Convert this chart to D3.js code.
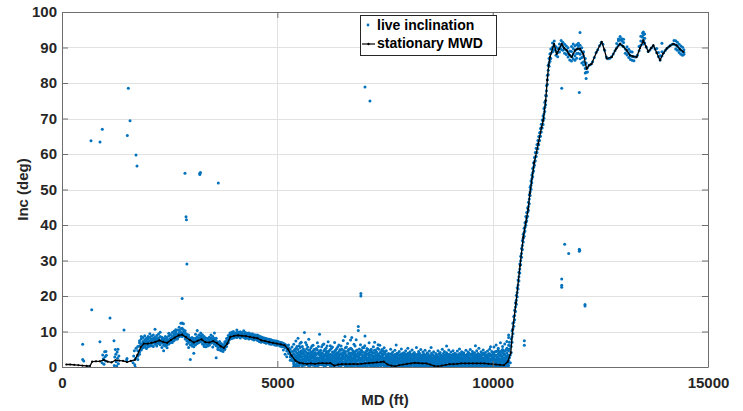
<!DOCTYPE html>
<html>
<head>
<meta charset="utf-8">
<script src="https://cdn.jsdelivr.net/npm/d3@7"></script>
<style>
  html, body { margin: 0; padding: 0; background: #fff; }
  svg { display: block; font-family: "Liberation Sans", Arial, sans-serif; }
</style>
</head>
<body>
<svg id="chart" width="743" height="411"></svg>
<script>
// ---------- data ----------
const xTicks = [0, 5000, 10000, 15000];
const yTicks = [0, 10, 20, 30, 40, 50, 60, 70, 80, 90, 100];
const seriesNames = ["live inclination", "stationary MWD"];

// stationary MWD surveys: measured depth (ft) and inclination (deg)
const mwdDepth = [100,190,285,380,475,570,650,700,790,880,970,1060,1150,1240,1330,1420,1510,1600,1690,1750,1830,1900,1990,2080,2170,2260,2350,2440,2530,2620,2710,2790,2880,2970,3060,3150,3240,3330,3420,3510,3600,3690,3760,3840,3910,4000,4090,4180,4270,4360,4450,4540,4630,4720,4810,4900,4990,5080,5170,5250,5330,5420,5510,5600,5690,5780,5870,5960,6050,6140,6230,6320,6410,6500,6590,6680,6770,6860,6950,7040,7130,7220,7310,7400,7470,7560,7650,7740,7830,7920,8010,8100,8190,8280,8370,8460,8550,8640,8730,8820,8910,9000,9090,9180,9270,9360,9450,9540,9630,9720,9810,9900,9990,10080,10170,10260,10350,10420,10465,10540,10635,10710,10770,10825,10865,10965,11060,11135,11175,11230,11268,11300,11331,11424,11487,11540,11603,11660,11719,11780,11835,11912,11970,12028,12104,12183,12240,12299,12415,12532,12590,12648,12764,12860,12957,13030,13112,13189,13260,13344,13420,13497,13560,13614,13680,13730,13810,13885,13960,14041,14120,14194,14273,14350,14426];
const mwdInc = [0.7,0.7,0.6,0.5,0.4,0.3,0.3,1.5,1.6,1.6,2.0,1.5,1.3,1.9,1.8,1.7,1.4,1.7,2.0,3.4,5.6,6.6,6.6,6.8,7.1,7.5,7.1,6.8,7.6,8.3,8.9,9.1,8.4,7.6,6.9,7.4,7.8,7.0,6.9,7.3,6.7,5.8,5.4,6.6,8.5,8.8,8.9,8.8,8.7,8.5,8.3,8.1,7.5,7.3,7.0,6.8,6.6,6.4,6.1,5.0,3.2,1.8,1.2,1.0,0.9,1.0,0.9,1.0,1.1,1.0,1.1,0.4,0.7,0.8,0.8,0.8,0.9,0.8,0.9,1.0,1.1,1.2,1.3,1.4,1.5,0.7,0.4,0.2,0.5,0.7,0.9,1.0,1.2,1.1,1.0,1.0,0.7,0.3,0.2,0.4,0.6,0.8,0.8,0.9,1.0,1.0,1.0,1.0,1.0,1.0,1.0,0.9,0.8,0.7,0.6,0.5,1.5,4.0,10.5,18.0,28.5,36.5,40.8,44.5,49.0,57.5,63.0,67.5,69.5,75.0,80.8,85.0,87.3,91.0,88.2,89.5,91.0,89.8,89.2,88.0,87.3,89.2,89.6,89.7,88.2,84.0,85.0,85.4,88.8,91.6,89.5,86.9,87.3,89.5,91.0,90.3,89.2,87.8,87.5,87.3,89.8,92.0,90.3,88.8,89.8,90.6,88.5,86.4,88.3,89.7,90.5,91.0,90.6,89.5,88.8];

// live inclination readings, grouped as [depth, [inclinations at that depth]]
const liveShallow = [
  [480,[6.4,2.1]],[505,[1.7]],[590,[0.0]],[690,[16.1]],[880,[7.1]],
  [930,[1.2]],[945,[3.4]],[960,[2.3]],[975,[0.8]],[990,[4.3]],[1000,[2.9]],[1010,[1.7]],[1020,[4.4]],[1030,[3.3]],
  [1115,[13.8]],[1207,[7.4]],[1215,[0.4]],[1225,[2.8]],[1240,[4.9]],[1250,[3.6]],[1260,[1.5]],[1270,[0.3]],
  [1280,[4.2]],[1290,[2.5]],[1300,[5.0]],[1310,[0.9]],[1320,[3.1]],[1440,[10.4]],[1500,[2.0]],[1510,[2.4]],
  [1650,[1.2]],[1665,[3.1]],[1680,[4.6]],[1690,[0.6]],[1700,[0.0]],[1710,[2.4]],[1720,[5.3]]
];
const liveTangent = [
  [1760,[2.1,4.6,3.0,5.8]],[1800,[4.2,5.9,6.8,3.6,7.4]],[1840,[5.1,6.4,7.9,8.6,4.8]],[1880,[6.0,7.2,8.3,5.4,6.9]],
  [1920,[5.6,7.7,6.3,8.8,7.0]],[1960,[6.1,7.4,5.2,8.1,6.8]],[2000,[7.9,6.2,5.7,8.6,7.1]],[2040,[6.5,8.3,7.4,5.9,9.4]],
  [2080,[7.2,6.0,8.7,7.8,6.6]],[2120,[8.1,6.8,7.5,9.0,5.8]],[2160,[7.0,8.4,6.4,7.7,10.6]],[2200,[7.6,8.9,6.7,8.0,5.9]],
  [2240,[8.2,7.1,9.3,6.6,7.8]],[2280,[7.4,8.6,6.3,9.8,7.0]],[2320,[6.8,7.9,5.5,8.4,7.2]],[2360,[7.3,6.1,8.0,6.7,4.6]],
  [2400,[6.4,7.8,5.9,7.1,8.6]],[2440,[7.0,6.2,8.3,5.4,7.6]],[2480,[7.7,8.8,6.5,7.2,9.5]],[2520,[8.1,7.0,9.1,6.8,7.9]],
  [2560,[8.6,7.5,9.7,8.0,6.9]],[2600,[9.2,8.0,7.4,10.1,8.7]],[2640,[8.8,9.9,7.8,9.4,10.5]],[2680,[9.3,8.2,10.4,9.0,7.9]],
  [2720,[9.6,10.3,8.5,9.1,11.2]],[2760,[9.0,10.6,8.7,12.3,9.8]],[2790,[12.4,10.9,9.4,8.6,19.3]],[2820,[9.8,8.9,10.5,12.2,9.2]],
  [2860,[8.7,9.6,7.9,10.2,8.3]],[2900,[8.0,9.2,7.3,6.4,8.6]],[2940,[7.6,8.5,6.9,9.0,5.5]],[2980,[7.2,6.3,8.1,2.1,7.7]],
  [3020,[6.8,7.6,5.9,8.3,6.4]],[3060,[6.5,7.3,3.9,8.0,5.7]],[3100,[7.0,8.1,6.2,7.6,9.2]],[3140,[7.7,6.6,8.5,7.2,10.3]],
  [3180,[8.2,7.3,9.0,6.9,7.9]],[3220,[7.9,8.8,7.1,9.6,8.4]],[3260,[7.4,8.3,6.5,7.9,9.1]],[3300,[7.0,6.2,7.8,8.6,5.8]],
  [3340,[6.6,7.5,5.7,7.1,8.2]],[3380,[7.2,6.4,8.0,5.9,6.8]],[3420,[6.9,7.7,6.1,8.4,7.3]],[3460,[7.5,6.7,8.2,7.0,9.0]],
  [3500,[7.8,6.9,8.6,7.3,5.6]],[3540,[7.1,8.0,6.4,7.6,9.6]],[3580,[6.6,7.4,2.6,8.1,6.0]],[3620,[6.2,5.4,7.0,6.7,4.9]],
  [3660,[5.7,6.5,4.8,6.1,7.2]],[3700,[5.3,6.0,4.6,5.6,6.6]],[3740,[5.0,5.8,4.4,6.2,5.4]],[3780,[5.9,6.6,5.2,7.1,4.9]],
  [3820,[6.4,7.3,5.8,6.9,8.0]],[3860,[7.6,8.2,6.8,8.9,7.2]],[3900,[8.3,9.1,7.8,8.7,9.6]],[3940,[8.6,9.4,8.0,9.8,8.9]],
  [3980,[8.8,9.5,8.2,9.1,10.0]],[4020,[9.0,8.4,9.6,8.7,9.3]],[4060,[8.9,9.7,8.3,9.2,10.4]],[4100,[9.1,8.5,9.8,8.8,9.4]],
  [4140,[8.7,9.5,8.2,9.0,9.9]],[4180,[9.2,8.6,9.7,8.9,9.3]],[4220,[8.8,9.4,8.3,9.1,10.2]],[4260,[8.6,9.3,8.0,8.9,9.7]],
  [4300,[8.9,8.2,9.5,8.5,9.1]],[4340,[8.4,9.2,7.9,8.7,9.6]],[4380,[8.6,8.0,9.3,8.3,8.9]],[4420,[8.3,9.0,7.8,8.6,9.4]],
  [4460,[8.1,8.8,7.6,8.4,9.1]],[4500,[8.4,7.8,9.0,8.1,8.7]],[4540,[8.0,8.6,7.5,8.3,9.0]],[4580,[7.8,8.4,7.2,8.1,8.7]],
  [4620,[7.5,8.2,7.0,7.8,8.5]],[4660,[7.7,7.1,8.3,7.4,8.0]],[4700,[7.3,7.9,6.9,7.6,8.2]],[4740,[7.1,7.7,6.7,7.4,8.0]],
  [4780,[7.4,6.8,7.9,7.1,7.6]],[4820,[6.9,7.5,6.5,7.2,7.8]],[4860,[6.8,7.3,6.4,7.0,7.7]],[4900,[7.0,6.5,7.5,6.8,7.2]],
  [4940,[6.6,7.1,6.2,6.9,7.4]],[4980,[6.5,7.0,6.1,6.8,7.3]],[5020,[6.7,6.2,7.2,6.4,6.9]],[5060,[6.3,6.8,5.9,6.5,7.0]],
  [5100,[6.1,6.6,5.7,6.4,6.9]],[5140,[6.3,5.8,6.7,6.0,4.8]],[5180,[5.9,6.4,5.4,6.1,3.6]],[5220,[5.2,6.0,4.5,5.6,2.9]],
  [5260,[4.6,5.4,3.8,5.0,6.2]],[5300,[3.5,4.3,2.8,5.1,1.9]],[5340,[2.6,3.4,1.8,4.4,5.6]]
];
const liveHold = [
  [5380,[0.2,1.4,2.7,3.8,0.9,2.1,4.6,6.4]],[5430,[0.6,1.9,3.1,4.4,0.1,2.6,5.2,7.3]],[5480,[1.2,2.4,3.6,0.4,4.9,1.7,3.0,8.1]],
  [5530,[0.8,2.0,3.3,4.1,1.5,2.8,5.5,6.7]],[5580,[0.3,1.6,2.9,4.3,0.9,3.7,2.2,5.8]],[5630,[1.0,2.3,3.5,0.5,4.6,1.8,3.0,9.7]],
  [5680,[0.7,1.9,3.2,4.0,2.5,1.2,5.1,6.3]],[5730,[0.4,1.5,2.8,3.9,0.2,2.1,4.7,7.8]],[5780,[1.1,2.4,3.4,0.6,4.2,1.7,2.9,5.4]],
  [5830,[0.5,1.8,3.0,4.5,1.2,2.6,3.8,6.1]],[5880,[0.9,2.2,3.6,0.3,4.1,1.5,2.8,5.0]],[5930,[0.2,1.4,2.6,3.7,0.8,2.0,4.8,6.8]],
  [5980,[1.3,2.5,3.3,0.7,4.4,1.9,3.9,9.2]],[6030,[0.6,1.7,2.9,4.0,1.1,2.3,3.5,5.7]],[6080,[0.4,2.0,3.1,4.6,0.9,2.7,1.5,6.5]],
  [6130,[1.0,2.2,3.8,0.5,4.3,1.6,3.0,5.3]],[6180,[0.7,1.9,2.8,4.1,1.3,3.4,2.4,7.1]],[6230,[0.3,1.5,2.6,3.6,0.9,4.9,2.1,6.0]],
  [6280,[0.1,1.2,2.4,3.5,0.6,1.8,4.2,5.6]],[6330,[0.2,0.9,2.0,3.3,1.4,2.7,4.5,6.9]],[6380,[0.5,1.6,2.9,4.0,1.1,3.5,2.3,5.2]],
  [6430,[0.8,2.1,3.2,4.4,0.3,1.5,2.7,6.2]],[6480,[0.4,1.7,2.6,3.8,1.0,4.7,2.2,5.9]],[6530,[0.9,2.3,3.4,0.6,4.1,1.4,2.9,7.5]],
  [6580,[0.3,1.5,2.8,4.2,0.8,2.0,3.6,5.4]],[6630,[0.6,1.9,3.0,0.2,4.5,1.2,2.5,6.6]],[6680,[1.0,2.2,3.5,0.5,4.0,1.7,2.9,5.1]],
  [6730,[0.4,1.6,2.7,3.9,1.1,2.3,5.0,8.3]],[6780,[0.7,1.8,3.1,4.3,0.2,2.6,3.7,6.4]],[6830,[0.5,2.0,3.3,0.9,4.6,1.4,2.8,7.7]],
  [6880,[0.8,1.6,2.9,4.1,0.3,2.2,10.3,11.4]],[6930,[0.2,1.3,2.5,3.8,1.0,4.4,2.0,6.3]],[6980,[0.6,1.9,3.0,0.4,4.2,1.5,2.7,5.5]],
  [7030,[0.9,2.1,3.4,0.1,3.9,1.2,2.6,6.0]],[7080,[0.3,1.4,2.6,3.7,0.8,2.0,4.6,5.2]],[7130,[0.5,1.7,2.9,4.0,1.1,2.4,3.3,6.8]],
  [7180,[0.2,1.5,2.3,3.5,0.7,1.9,4.3,5.0]],[7230,[0.6,1.8,2.8,0.3,3.9,1.3,2.5,5.7]],[7280,[0.4,1.2,2.4,3.4,0.9,2.0,4.1,4.8]],
  [7330,[0.8,1.6,2.7,0.2,3.6,1.4,2.2,5.3]],[7380,[0.5,1.9,3.0,0.9,4.0,1.5,2.6,6.1]],[7430,[1.0,2.2,3.3,0.6,3.8,1.7,2.8,4.9]],
  [7480,[0.7,1.5,2.6,3.7,0.3,2.1,4.4,5.4]],[7530,[0.2,1.1,2.3,3.2,0.6,1.7,2.8,4.6]],[7580,[0.1,0.9,2.0,3.0,0.5,1.4,2.5,3.8]],
  [7630,[0.0,0.8,1.8,2.9,0.4,1.3,3.6,5.0]],[7680,[0.3,1.0,2.1,3.3,0.1,1.6,2.6,4.2]],[7730,[0.2,0.7,1.9,2.8,0.5,1.4,3.5,4.7]],
  [7780,[0.4,1.2,2.2,3.1,0.0,1.7,2.6,3.9]],[7830,[0.1,0.9,2.0,3.4,0.6,1.5,2.7,4.4]],[7880,[0.5,1.3,2.4,3.0,0.2,1.8,3.7,5.1]],
  [7930,[0.3,1.1,2.1,2.9,0.7,1.6,3.3,4.0]],[7980,[0.6,1.4,2.5,3.5,0.2,1.9,2.8,4.6]],[8030,[0.4,1.2,2.3,3.2,0.8,1.7,3.9,5.3]],
  [8080,[0.7,1.5,2.6,3.6,0.3,2.0,2.9,4.3]],[8130,[0.5,1.3,2.2,3.1,0.9,1.8,3.5,4.8]],[8180,[0.2,1.0,2.0,2.8,0.6,1.5,3.3,4.1]],
  [8230,[0.6,1.4,2.5,3.4,0.1,1.9,2.7,5.5]],[8280,[0.3,1.2,2.3,3.0,0.7,1.6,3.8,4.4]],[8330,[0.5,1.5,2.4,3.3,0.2,1.8,2.9,4.9]],
  [8380,[0.2,1.1,2.1,2.9,0.6,1.6,3.4,4.2]],[8430,[0.4,1.3,2.2,3.2,0.9,1.7,2.8,4.7]],[8480,[0.1,0.9,1.9,2.8,0.5,1.4,3.6,4.0]],
  [8530,[0.3,1.0,2.0,3.1,0.0,1.5,2.6,4.5]],[8580,[0.0,0.8,1.7,2.6,0.4,1.2,3.3,3.9]],[8630,[0.2,0.6,1.6,2.5,0.1,1.1,2.9,4.3]],
  [8680,[0.1,0.9,1.8,2.7,0.4,1.3,3.2,3.8]],[8730,[0.3,1.0,2.0,2.9,0.0,1.5,2.5,4.6]],[8780,[0.5,1.2,2.2,3.1,0.2,1.7,3.5,4.1]],
  [8830,[0.2,1.1,2.0,2.8,0.6,1.5,3.0,5.0]],[8880,[0.4,1.3,2.3,3.3,0.1,1.8,2.7,4.4]],[8930,[0.6,1.4,2.5,3.0,0.3,1.9,3.7,4.0]],
  [8980,[0.3,1.2,2.1,2.9,0.7,1.6,3.4,4.8]],[9030,[0.5,1.5,2.4,3.2,0.2,1.9,2.8,4.2]],[9080,[0.2,1.0,2.2,3.0,0.6,1.4,3.6,4.6]],
  [9130,[0.4,1.3,2.0,2.8,0.9,1.7,3.1,3.9]],[9180,[0.6,1.5,2.5,3.4,0.3,2.0,2.9,4.5]],[9230,[0.3,1.1,2.2,3.1,0.7,1.6,3.8,5.1]],
  [9280,[0.5,1.4,2.3,3.3,0.1,1.8,2.7,4.3]],[9330,[0.2,1.2,2.1,2.9,0.6,1.5,3.5,4.0]],[9380,[0.4,1.3,2.4,3.2,0.8,1.9,2.8,4.7]],
  [9430,[0.1,1.0,2.0,3.0,0.5,1.5,3.4,4.2]],[9480,[0.3,1.2,2.2,3.3,0.7,1.7,2.6,4.9]],[9530,[0.5,1.4,2.5,3.1,0.2,1.9,3.7,4.4]],
  [9580,[0.2,1.1,2.1,2.8,0.6,1.6,3.2,4.0]],[9630,[0.4,1.3,2.3,3.4,0.9,1.8,2.9,4.6]],[9680,[0.6,1.5,2.4,3.2,0.3,2.0,3.6,5.3]],
  [9730,[0.3,1.2,2.2,3.0,0.7,1.7,2.7,4.3]],[9780,[0.5,1.4,2.6,3.5,0.1,1.9,3.9,4.8]],[9830,[0.2,1.1,2.0,2.9,0.6,1.5,3.3,4.1]],
  [9880,[0.4,1.3,2.3,3.3,0.8,1.8,2.8,4.5]],[9930,[0.1,1.0,2.1,3.1,0.5,1.6,3.7,5.0]],[9980,[0.3,1.2,2.4,3.4,0.7,1.9,2.9,4.4]],
  [10030,[0.5,1.5,2.5,3.6,0.2,2.0,4.1,5.6]],[10080,[0.2,1.1,2.2,3.3,0.6,1.7,4.4,6.2]],[10130,[0.4,1.4,2.6,3.7,0.9,2.1,4.7,5.3]],
  [10180,[0.1,1.2,2.3,3.5,0.5,1.8,4.2,6.8]],[10230,[0.3,1.5,2.7,3.9,0.8,2.2,4.9,5.8]],[10280,[0.0,1.3,2.5,3.6,0.6,1.9,4.5,6.5]],
  [10330,[0.2,1.6,2.8,4.0,0.9,2.4,5.3,7.2]],[10370,[0.4,1.8,3.1,4.6,1.2,8.3,9.0,6.1]],
  [6570,[8.6]],[7035,[8.7]],[6700,[7.6]],[7260,[7.0]],[7340,[6.3]],[7760,[6.2]],[8570,[5.5]],[8930,[5.9]],[9600,[6.0]],[9950,[5.7]]
];
// second pass of hold-section readings, between the first pass depths
const liveHoldB = [
  [5405,[0.5,1.7,3.3,4.9]],[5455,[1.1,2.2,3.9,5.8]],[5505,[0.3,2.5,4.2,6.0]],[5555,[1.4,3.0,4.6,7.0]],[5605,[0.6,2.1,3.9,5.1]],
  [5655,[1.5,2.8,4.3,6.9]],[5705,[0.9,2.6,3.6,5.6]],[5755,[0.3,1.9,3.4,4.8]],[5805,[1.0,2.7,3.9,5.9]],[5855,[0.6,2.3,3.2,4.9]],
  [5905,[1.2,1.9,3.5,5.2]],[5955,[0.5,2.4,4.0,5.8]],[6005,[0.8,1.6,3.1,4.7]],[6055,[1.4,2.6,3.8,6.3]],[6105,[0.2,1.8,3.4,5.0]],
  [6155,[0.9,2.5,4.4,5.9]],[6205,[1.6,2.2,3.3,4.6]],[6255,[0.5,1.9,3.0,5.3]],[6305,[0.3,1.6,2.8,4.1]],[6355,[0.7,2.3,3.7,4.8]],
  [6405,[1.3,2.5,3.8,5.7]],[6455,[0.2,1.3,3.5,4.9]],[6505,[0.6,2.0,3.1,5.0]],[6555,[1.2,2.5,3.9,4.6]],[6605,[0.4,1.6,3.3,5.6]],
  [6655,[0.8,2.7,3.8,4.9]],[6705,[0.3,1.4,3.2,5.3]],[6755,[0.9,2.0,3.5,4.5]],[6805,[1.2,2.4,4.0,5.9]],[6855,[0.4,1.9,3.6,4.8]],
  [6905,[0.7,2.6,3.3,5.1]],[6955,[1.1,2.3,3.6,4.7]],[7005,[0.3,1.7,3.2,5.4]],[7055,[0.6,2.2,3.1,4.4]],[7105,[1.0,2.0,3.6,4.9]],
  [7155,[0.4,1.2,2.7,4.6]],[7205,[0.9,2.1,3.2,4.3]],[7255,[0.2,1.6,3.0,4.7]],[7305,[0.6,1.9,3.1,4.2]],[7355,[1.1,2.3,3.4,5.0]],
  [7405,[0.3,1.3,3.1,4.4]],[7455,[0.8,2.4,3.3,4.6]],[7505,[0.4,1.5,2.5,3.9]],[7555,[0.2,1.2,2.6,3.4]],[7605,[0.5,1.1,2.3,3.6]],
  [7655,[0.2,1.4,2.4,3.8]],[7705,[0.6,1.1,2.2,3.1]],[7755,[0.1,1.4,2.5,3.5]],[7805,[0.3,1.2,2.4,3.7]],[7855,[0.8,1.6,2.7,3.3]],
  [7905,[0.2,1.4,2.5,3.6]],[7955,[0.4,1.0,2.2,3.9]],[8005,[0.1,1.7,2.7,3.4]],[8055,[0.5,1.2,2.4,3.8]],[8105,[0.3,1.0,2.6,3.3]],
  [8155,[0.7,1.6,2.4,3.7]],[8205,[0.4,1.3,2.6,3.5]],[8255,[0.2,1.1,2.0,3.6]],[8305,[0.8,1.7,2.6,3.8]],[8355,[0.4,1.4,2.5,3.3]],
  [8405,[0.1,1.0,2.4,3.7]],[8455,[0.6,1.5,2.5,3.4]],[8505,[0.2,1.2,2.3,3.6]],[8555,[0.4,1.0,2.1,3.0]],[8605,[0.1,1.3,2.0,3.5]],
  [8655,[0.3,0.9,2.3,3.1]],[8705,[0.0,1.1,2.2,3.4]],[8755,[0.4,1.5,2.4,3.7]],[8805,[0.7,1.3,2.6,3.3]],[8855,[0.2,1.5,2.5,3.8]],
  [8905,[0.8,1.2,2.2,3.4]],[8955,[0.4,1.6,2.7,3.6]],[9005,[0.1,1.1,2.5,3.5]],[9055,[0.7,1.6,2.6,3.3]],[9105,[0.3,1.3,2.4,3.7]],
  [9155,[0.9,1.1,2.2,3.5]],[9205,[0.2,1.7,2.6,3.4]],[9255,[0.6,1.3,2.5,3.6]],[9305,[0.4,1.0,2.3,3.8]],[9355,[0.1,1.6,2.7,3.3]],
  [9405,[0.7,1.2,2.4,3.6]],[9455,[0.4,1.5,2.6,3.9]],[9505,[0.2,1.1,2.2,3.5]],[9555,[0.8,1.4,2.6,3.7]],[9605,[0.3,1.2,2.4,3.3]],
  [9655,[0.5,1.6,2.7,3.8]],[9705,[0.1,1.0,2.5,3.5]],[9755,[0.7,1.3,2.3,3.6]],[9805,[0.4,1.7,2.4,3.9]],[9855,[0.2,1.2,2.6,3.4]],
  [9905,[0.6,1.4,2.5,3.7]],[9955,[0.3,1.0,2.2,3.3]],[10005,[0.8,1.7,2.9,4.0]],[10055,[0.4,1.3,3.0,4.3]],[10105,[0.1,1.6,2.8,4.5]],
  [10155,[0.6,1.9,3.2,4.1]],[10205,[0.3,1.4,3.0,4.6]],[10255,[0.7,1.8,3.3,4.4]],[10305,[0.2,1.5,3.1,4.8]],[10355,[0.5,2.0,3.4,5.0]]
];
const liveBuild = [
  [10390,[2.6,5.1,7.0]],[10410,[3.4,6.0,1.2]],[10430,[5.8,7.9,4.1]],[10450,[8.5,10.2,7.0]],[10470,[10.8,12.3,9.4]],
  [10490,[12.6,14.2,11.5]],[10510,[14.5,16.0,13.3]],[10530,[16.9,18.1,15.6]],[10550,[18.8,20.2,17.7]],[10570,[21.0,22.3,19.8]],
  [10590,[23.1,24.5,22.0]],[10610,[25.4,26.7,24.2]],[10630,[27.6,29.0,26.5]],[10650,[29.9,31.2,28.8]],[10670,[32.0,33.4,30.9]],
  [10690,[34.2,35.6,33.1]],[10710,[36.3,37.4,35.2]],[10730,[37.9,39.1,36.8]],[10750,[39.4,40.6,38.3]],[10770,[40.8,42.4,39.9]],
  [10790,[42.0,43.5,41.2]],[10810,[43.6,44.8,42.5]],[10830,[45.2,46.4,44.1]],[10850,[47.3,48.5,46.0]],[10870,[49.4,50.6,48.3]],
  [10890,[51.2,52.4,50.1]],[10910,[53.0,54.1,51.9]],[10930,[54.7,55.9,53.6]],[10950,[56.3,57.5,55.2]],[10970,[57.9,59.0,56.8]],
  [10990,[59.2,60.4,58.1]],[11010,[60.4,61.6,59.3]],[11030,[61.5,62.7,60.4]],[11050,[62.6,63.8,61.5]],[11070,[63.7,64.9,62.6]],
  [11090,[64.9,66.0,63.8]],[11110,[66.1,67.2,65.0]],[11130,[67.3,68.4,66.2]],[11150,[68.4,69.6,67.3]],[11170,[69.4,70.7,68.3]],
  [11190,[71.3,72.8,70.1]],[11210,[73.2,74.6,72.0]],[11230,[75.1,76.5,73.9]],[11250,[77.8,79.3,76.4]],[11270,[80.9,82.2,79.6]],
  [11290,[83.6,85.0,82.3]],[11310,[85.6,86.9,84.7]],[11330,[87.0,88.2,86.1]]
];
const liveLateral = [
  [11350,[88.4,86.9,89.6]],[11390,[90.1,88.8,91.3]],[11430,[90.6,89.4,91.8]],[11470,[88.9,87.8,90.2]],[11510,[88.6,89.7,87.4]],
  [11550,[89.9,91.0,88.7]],[11590,[90.7,89.5,92.0]],[11630,[90.3,89.2,91.5]],[11670,[89.6,88.4,90.9]],[11710,[89.3,88.0,90.4]],
  [11750,[88.6,87.3,89.9]],[11790,[87.8,86.5,89.0]],[11830,[87.5,86.2,88.9,90.3]],[11870,[88.2,86.8,89.7,91.0]],
  [11910,[89.1,87.7,90.5,86.4]],[11950,[89.5,88.3,90.8,87.0]],[11990,[89.8,88.4,91.2,90.5]],[12030,[89.4,88.1,90.6,86.8]],
  [12070,[88.7,87.2,89.9,85.6]],[12110,[87.6,86.0,85.1,88.8]],[12150,[85.4,84.1,82.8,86.9]],[12170,[84.2,81.3,83.0,85.6]],
  [12200,[84.3,83.1]],[12240,[85.0]],[12280,[85.3]],[12320,[86.0]],[12360,[87.2]],
  [12400,[88.5]],[12440,[89.4]],[12480,[90.5]],[12520,[91.4]],[12560,[90.9]],
  [12600,[89.2]],[12640,[87.3]],[12680,[86.8]],[12720,[87.0]],[12760,[87.4]],
  [12800,[88.2]],[12840,[89.1]],[12880,[89.9,91.1]],[12920,[90.6,91.9,92.4]],
  [12960,[91.0,92.2,93.1]],[13000,[90.6,91.8,92.5]],[13040,[90.2,91.4,92.3]],[13080,[89.6,88.4]],
  [13120,[89.0,87.9,90.2]],[13160,[88.3,87.2,89.5]],[13200,[87.7,86.6,88.9]],[13240,[87.5,86.4,88.7]],[13280,[87.4,86.3]],
  [13320,[87.3]],[13360,[87.8]],[13400,[89.1,90.3]],[13440,[90.6,91.8,93.2]],
  [13480,[91.7,92.9,94.1]],[13500,[92.0,93.6,94.4,91.0]],[13530,[91.3,92.6,93.8]],[13570,[90.1]],
  [13610,[88.9]],[13650,[89.3]],[13690,[89.9]],[13730,[90.5]],[13770,[89.6]],
  [13810,[88.5,89.7]],[13850,[87.4,88.6]],[13890,[86.5,87.7]],[13930,[87.6,88.8,91.2]],
  [13970,[88.5]],[14010,[89.2]],[14050,[89.8]],[14090,[90.2]],[14130,[90.6]],
  [14170,[90.9]],[14210,[90.9,92.0]],[14250,[90.7,89.6,91.9]],[14290,[90.3,89.2,91.5]],[14330,[89.7,88.6,90.9]],
  [14370,[89.2,88.1,90.4]],[14410,[88.9,87.8,90.1]],[14440,[88.6,89.4,88.1]]
];
// isolated spikes in the live feed
const liveSpikes = [
  [673,[63.7]],[882,[63.4]],[936,[67.0]],[1517,[65.2]],[1540,[78.5]],[1580,[69.4]],[1718,[59.7]],[1741,[56.6]],
  [2856,[54.6]],[2880,[42.3]],[2890,[41.5]],[2900,[29.0]],[3200,[54.6,54.2]],[3215,[54.8]],[3630,[51.8]],
  [7035,[78.9]],[7150,[74.9]],[6940,[20.7,20.0]],[10735,[7.4,6.1]],
  [11603,[78.5,24.8,23.0,22.5]],[11672,[34.6]],[11765,[32.0]],[12012,[77.3,33.2,32.6]],[12020,[32.9]],
  [12028,[94.2]],[12144,[17.6,17.2]]
];

// ---------- layout ----------
const plot = { left: 62, right: 708, top: 12, bottom: 367 };
const blue = "#0072BD";
const axisGray = "#262626";

const x = d3.scaleLinear().domain([0, 15000]).range([plot.left, plot.right]);
const y = d3.scaleLinear().domain([0, 100]).range([plot.bottom, plot.top]);

const svg = d3.select("#chart");

// background grid
const grid = svg.append("g").attr("stroke", "#e1e1e1").attr("stroke-width", 1);
grid.selectAll("line.gx").data(xTicks.slice(1, -1)).join("line")
  .attr("x1", d => Math.round(x(d)) + 0.5).attr("x2", d => Math.round(x(d)) + 0.5)
  .attr("y1", plot.top).attr("y2", plot.bottom);
grid.selectAll("line.gy").data(yTicks.slice(1, -1)).join("line")
  .attr("x1", plot.left).attr("x2", plot.right)
  .attr("y1", d => Math.round(y(d)) + 0.5).attr("y2", d => Math.round(y(d)) + 0.5);

// live inclination points
const flatten = groups => groups.flatMap(([md, vals]) => vals.map(v => [md, v]));
const livePts = [liveShallow, liveTangent, liveHold, liveHoldB, liveBuild, liveLateral, liveSpikes].flatMap(flatten);
svg.append("clipPath").attr("id", "plotClip").append("rect")
  .attr("x", plot.left).attr("y", plot.top - 2)
  .attr("width", plot.right - plot.left).attr("height", plot.bottom - plot.top + 2);
svg.append("g").attr("clip-path", "url(#plotClip)")
  .selectAll("circle").data(livePts).join("circle")
  .attr("cx", d => x(d[0])).attr("cy", d => y(d[1]))
  .attr("r", 1.5).attr("fill", blue);

// stationary MWD line with station markers
const mwd = d3.zip(mwdDepth, mwdInc);
const line = d3.line().x(d => x(d[0])).y(d => y(d[1]));
svg.append("path").datum(mwd)
  .attr("d", line).attr("fill", "none")
  .attr("stroke", "#000").attr("stroke-width", 1.3).attr("stroke-linejoin", "round");
svg.append("g").selectAll("circle").data(mwd).join("circle")
  .attr("cx", d => x(d[0])).attr("cy", d => y(d[1]))
  .attr("r", 1.1).attr("fill", "#000");

// axes (box with inward ticks)
const tickFont = g => g.selectAll("text")
  .attr("font-size", 15).attr("font-weight", "bold").attr("fill", axisGray)
  .attr("font-family", "'Liberation Sans', Arial, sans-serif");
const styleAxis = g => {
  g.select(".domain").attr("stroke", "#6e6e6e");
  g.selectAll(".tick line").attr("stroke", "#6e6e6e");
};

svg.append("g").attr("transform", `translate(0,${plot.bottom})`)
  .call(d3.axisBottom(x).tickValues(xTicks).tickSizeInner(-6).tickSizeOuter(0).tickPadding(10).tickFormat(d3.format("d")))
  .call(styleAxis).call(tickFont);
svg.append("g").attr("transform", `translate(${plot.left},0)`)
  .call(d3.axisLeft(y).tickValues(yTicks).tickSizeInner(-6).tickSizeOuter(0).tickPadding(5).tickFormat(d3.format("d")))
  .call(styleAxis).call(tickFont);
svg.append("g").attr("transform", `translate(0,${plot.top})`)
  .call(d3.axisTop(x).tickValues(xTicks).tickSizeInner(-6).tickSizeOuter(0).tickFormat(""))
  .call(styleAxis);
svg.append("g").attr("transform", `translate(${plot.right},0)`)
  .call(d3.axisRight(y).tickValues(yTicks).tickSizeInner(-6).tickSizeOuter(0).tickFormat(""))
  .call(styleAxis);

// axis titles
svg.append("text")
  .attr("x", (plot.left + plot.right) / 2).attr("y", 405)
  .attr("text-anchor", "middle").attr("font-size", 15).attr("font-weight", "bold").attr("fill", axisGray)
  .text("MD (ft)");
svg.append("text")
  .attr("transform", `translate(28,${(plot.top + plot.bottom) / 2}) rotate(-90)`)
  .attr("text-anchor", "middle").attr("font-size", 15).attr("font-weight", "bold").attr("fill", axisGray)
  .text("Inc (deg)");

// legend
const lg = svg.append("g").attr("transform", "translate(360,15)");
lg.append("rect").attr("x", 0.5).attr("y", 0.5).attr("width", 136).attr("height", 40)
  .attr("fill", "#fff").attr("stroke", "#262626").attr("stroke-width", 1);
lg.append("circle").attr("cx", 8).attr("cy", 10).attr("r", 1.4).attr("fill", blue);
lg.append("line").attr("x1", 2).attr("x2", 15).attr("y1", 29).attr("y2", 29)
  .attr("stroke", "#000").attr("stroke-width", 1.2);
lg.append("circle").attr("cx", 8.5).attr("cy", 29).attr("r", 1.2).attr("fill", "#000");
lg.selectAll("text").data(seriesNames).join("text")
  .attr("x", 17).attr("y", (d, i) => 15 + i * 18)
  .attr("font-size", 14).attr("font-weight", "bold").attr("fill", "#000")
  .text(d => d);
</script>
</body>
</html>
